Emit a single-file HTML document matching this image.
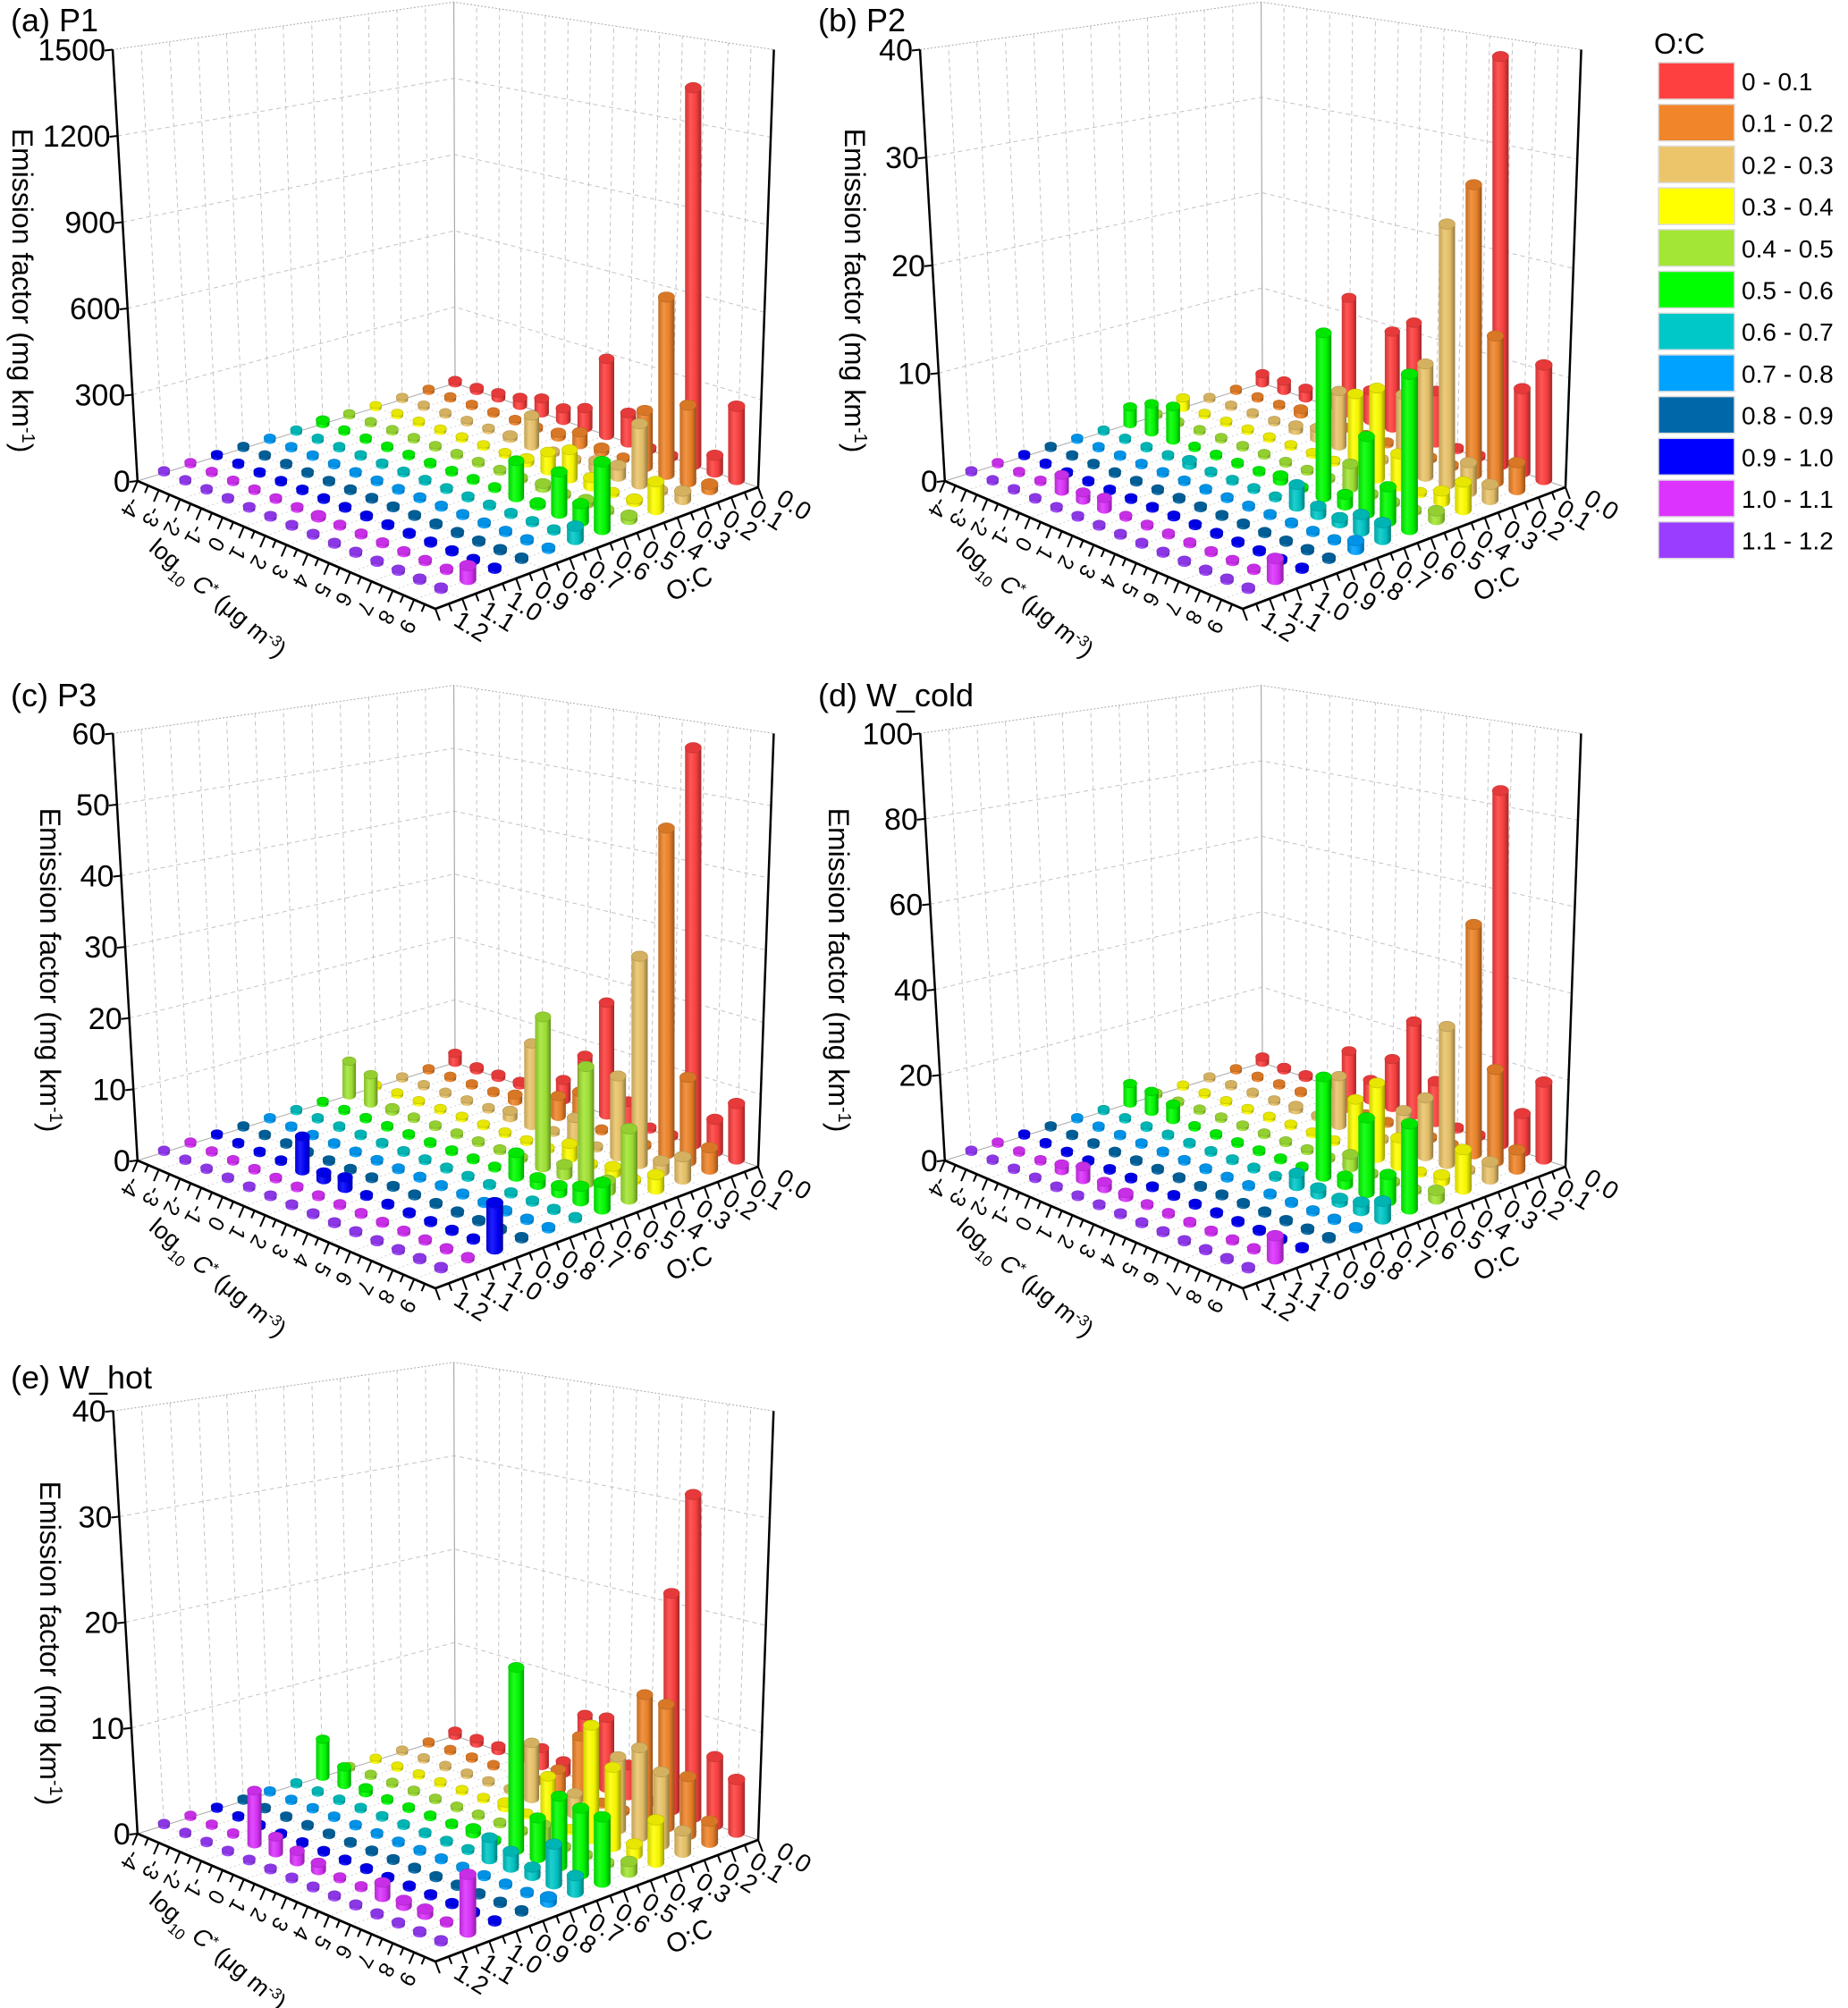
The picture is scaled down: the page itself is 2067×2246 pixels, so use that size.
<!DOCTYPE html>
<html><head><meta charset="utf-8"><title>Emission factor by volatility and O:C</title>
<style>
html,body{margin:0;padding:0;background:#fff;}
svg{display:block;font-family:"Liberation Sans",sans-serif;}
</style></head>
<body>
<svg id="fig" xmlns="http://www.w3.org/2000/svg" width="2067" height="2246" viewBox="0 0 2067 2246">
<defs id="defs"></defs>
<rect x="0" y="0" width="2067" height="2246" fill="#fff"/>
</svg>
<script>
// ---- Data: O:C bins (rows) x log10 C* (columns) ----
const ocBins = ['0 - 0.1','0.1 - 0.2','0.2 - 0.3','0.3 - 0.4','0.4 - 0.5','0.5 - 0.6','0.6 - 0.7','0.7 - 0.8','0.8 - 0.9','0.9 - 1.0','1.0 - 1.1','1.1 - 1.2'];
const ocColors = ['#ff4040','#f0852a','#ecc56b','#ffff00','#a3e635','#00ff00','#00c8c8','#00a2ff','#0068a8','#0000ff','#dd33ff','#9b3dff'];
const cStarTicks = ['-4','-3','-2','-1','0','1','2','3','4','5','6','7','8','9'];
const ocTicks = ['0.0','0.1','0.2','0.3','0.4','0.5','0.6','0.7','0.8','0.9','1.0','1.1','1.2'];
const zeros = [0,0,0,0,0,0,0,0,0,0,0,0,0,0];

const efP1 = [
 [8,12,20,30,55,45,73,280,108,0,0,1330,60,255],
 [0,0,0,0,0,0,15,44,15,0,200,620,267,20],
 [0,0,0,0,0,10,110,0,0,30,40,210,0,30],
 [0,0,0,0,0,0,0,15,65,100,30,0,10,95],
 [0,0,0,0,0,0,0,0,0,15,0,15,0,15],
 [15,0,0,0,0,0,0,0,0,125,5,140,60,225],
 [0,0,0,0,0,0,0,0,0,0,0,0,0,45],
 zeros, zeros, zeros,
 [0,0,0,0,0,0,8,0,0,0,0,0,0,45],
 zeros];
const efP2 = [
 [1,1,1,1,11.6,3,9.5,11,5,0,0,38.4,7.8,10.6],
 [0,0,0,0.5,0,0,0,0,0,0,0,27,13.5,2.5],
 [0,0,0,0,0.5,1,5.3,0,0,7,10.5,24,2.7,1.4],
 [1,0,0,0,0,0,0,0,7.2,8.4,3,0,1,2.5],
 [0,0,0,0,0,0,0,0,0,2.2,0,0,0,0.8],
 [1.7,2.8,3.3,0,0,0,0,0.5,0,15,1,6.9,3.1,13.7],
 [0,0,0,0,0.5,0,0,0,0,2,0.8,0.5,1.5,1.5],
 [0,0,0,0,0,0,0,0,0,0,0,0,0,0.8],
 zeros, zeros,
 [0,0,0,1.5,0.7,1.0,0,0,0,0,0,0,0,1.8],
 zeros];
const efP3 = [
 [1.5,0.5,0.5,0.5,0,3,7.7,16.6,3,0,0,56.5,4.6,7.8],
 [0,0,0,0,1,0,3,4.7,0,0,0,46,11.8,3],
 [0,0,0,0,0,1,12,0,3.3,0,11.3,29,1.5,3.1],
 [0,0,0,0,0,0,0,0,0,2,0,1,0,2],
 [5.2,4.3,0.5,0,0,0,0,0,0,21,1.5,16,1.5,9.5],
 [0,0,0,0,0,0,0,0,0,3.3,1,1,2,3.6],
 zeros, zeros, zeros,
 [0,0,0,0,4.8,1,1.5,0,0,0,0,0,0,6],
 zeros, zeros];
const efWcold = [
 [1.5,0.5,0.5,1.5,10.5,5,12,23,10,0,0,84,9,18],
 [0,0,0,0,0,2,0,0,0,0,0,54,21.5,4.5],
 [0,0,0,0,1,0,12,0,0,9,13.7,32,0,4],
 [0,0,0,0,0,0,0,0,12,17.6,6.5,0,1.5,9],
 [0,0,0,0,0,0,0,0,0,3,0,0,0,2],
 [5,5,3.8,0,0,0,0,0,0,23,2,17,6,19],
 [0,0,0,0,0,0,0,0,0,3,1.5,1,2,4],
 zeros, zeros, zeros,
 [0,0,0,1.5,3,1.5,1,0,0,0,0,0,0,5],
 zeros];
const efWhot = [
 [0.5,0.5,0.5,1,1.8,1.2,6.6,7,3,0,21,31,6.5,5],
 [0,0,0,0,0,0,2,6,0,0,12,11.7,5.5,2],
 [0,0,0,0,0,0,5.5,0,2,0,6.9,8.4,6.8,2],
 [0,0,0,0,0,0,0.5,0,4.5,0,10.7,7.4,1,3.9],
 [0,0,0,0,0,0,0,0,0,1.5,0,0,0,1],
 [3.8,1.8,0.5,0,0,0,0,0.5,0,17,3.7,6.4,6,5.9],
 [0,0,0,0,0,0,0,0,0,2,1.5,0.8,3.6,1.5],
 [0,0,0,0,0,0,0,0,0,0,0,0,0,0.5],
 zeros, zeros,
 [0,0,0,5,1.5,1,0.7,0,0,1.3,0.5,0.5,0,5],
 zeros];

const ticksP1 = [0,300,600,900,1200,1500];
const ticksP2 = [0,10,20,30,40];
const ticksP3 = [0,10,20,30,40,50,60];
const ticksWcold = [0,20,40,60,80,100];
const ticksWhot = [0,10,20,30,40];

// ---- Layout ----
const svg = document.getElementById('fig');
const defs = document.getElementById('defs');
const NS = 'http://www.w3.org/2000/svg';
function mk(tag, attrs, parent){ const e=document.createElementNS(NS,tag); for(const k in attrs) e.setAttribute(k,attrs[k]); (parent||svg).appendChild(e); return e; }

const GB=[509,428.6], GL=[153.8,538], GR=[848,545], GF=[487,681];
const GBt=[507.6,2.3], GLt=[126,55.5], GRt=[865.6,55.5];
const HB=426, HL=482.5, HR=489.5, HF=545;

function bil(b,r,l,f,u,v){ return (1-u)*(1-v)*b + u*(1-v)*r + (1-u)*v*l + u*v*f; }
function floorPt(u,v){ return [bil(GB[0],GR[0],GL[0],GF[0],u,v), bil(GB[1],GR[1],GL[1],GF[1],u,v)]; }
function heightAt(u,v){ return bil(HB,HR,HL,HF,u,v); }
function lerp(a,b,t){ return [a[0]+(b[0]-a[0])*t, a[1]+(b[1]-a[1])*t]; }
function uOf(i){ return i/14; }
function vOf(j){ return j/12; }

function hexToRgb(h){ return [parseInt(h.substr(1,2),16),parseInt(h.substr(3,2),16),parseInt(h.substr(5,2),16)]; }
function rgbS(c,k){ return 'rgb('+c.map(x=>Math.max(0,Math.min(255,Math.round(k>=1? x+(255-x)*(k-1): x*k)))).join(',')+')'; }
ocColors.forEach((col,j)=>{
  const c=hexToRgb(col);
  const g=mk('linearGradient',{id:'cg'+j,x1:'0',y1:'0',x2:'1',y2:'0'},defs);
  mk('stop',{offset:'0','stop-color':rgbS(c,0.82)},g);
  mk('stop',{offset:'0.35','stop-color':rgbS(c,1.12)},g);
  mk('stop',{offset:'0.7','stop-color':rgbS(c,0.95)},g);
  mk('stop',{offset:'1','stop-color':rgbS(c,0.62)},g);
});

const panels = [
 {key:'p1', title:'(a) P1', ox:0, oy:0, sc:1, data:efP1, ticks:ticksP1, ytx:25, tty:35},
 {key:'p2', title:'(b) P2', ox:903, oy:0, sc:1, data:efP2, ticks:ticksP2, ytx:53, tty:35},
 {key:'p3', title:'(c) P3', ox:0, oy:760, sc:0.99, data:efP3, ticks:ticksP3, ytx:56, tty:30},
 {key:'w-cold', title:'(d) W_cold', ox:903, oy:760, sc:0.99, data:efWcold, ticks:ticksWcold, ytx:35, tty:30},
 {key:'w-hot', title:'(e) W_hot', ox:0, oy:1513, sc:0.98, data:efWhot, ticks:ticksWhot, ytx:56, tty:40}
];

panels.forEach(p=>{
  const g = mk('g',{transform:'translate('+p.ox+','+p.oy+')'});
  
  
  const maxV = p.ticks[p.ticks.length-1];
  const wallPt=(side,t,f)=>{
    const b = side==='L'? lerp(GB,GL,t) : lerp(GB,GR,t);
    const tp = side==='L'? lerp(GBt,GLt,t) : lerp(GBt,GRt,t);
    const s = p.sc;
    return [b[0]+(tp[0]-b[0])*f*s, b[1]+(tp[1]-b[1])*f*s];
  };
  const wall = mk('g',{stroke:'#c4c4c4','stroke-width':'1','stroke-dasharray':'5 4',fill:'none'},g);
  
  
  for(let k=1;k<=12;k++){ const a=wallPt('L',k/12,0), b=wallPt('L',k/12,1); mk('line',{x1:a[0],y1:a[1],x2:b[0],y2:b[1]},wall); }
  for(let k=1;k<=14;k++){ const a=wallPt('R',k/14,0), b=wallPt('R',k/14,1); mk('line',{x1:a[0],y1:a[1],x2:b[0],y2:b[1]},wall); }
  p.ticks.forEach((t,ti)=>{ if(ti===0) return; const f=t/maxV;
    const a=wallPt('L',1,f), b=wallPt('L',0,f), c=wallPt('R',1,f);
    const pl=mk('polyline',{points:a.join(',')+' '+b.join(',')+' '+c.join(','), stroke: ti===p.ticks.length-1?'#aaa':'#c4c4c4'},wall);
    if(ti===p.ticks.length-1) pl.setAttribute('stroke-dasharray','2 2');
  });
  const bt=wallPt('L',0,1);
  mk('line',{x1:GB[0],y1:GB[1],x2:bt[0],y2:bt[1],stroke:'#aaa','stroke-width':'1.2'},g);
  const fl = mk('g',{stroke:'#cfcfcf','stroke-width':'0.9','stroke-dasharray':'2 3',fill:'none'},g);
  
  
  for(let j=0;j<12;j++){ const a=floorPt(0,vOf(j)), b=floorPt(1,vOf(j)); mk('line',{x1:a[0],y1:a[1],x2:b[0],y2:b[1]},fl); }
  for(let i=0;i<14;i++){ const a=floorPt(uOf(i),0), b=floorPt(uOf(i),1); mk('line',{x1:a[0],y1:a[1],x2:b[0],y2:b[1]},fl); }
  mk('line',{x1:GB[0],y1:GB[1],x2:GL[0],y2:GL[1],stroke:'#aaa','stroke-width':'1'},g);
  mk('line',{x1:GB[0],y1:GB[1],x2:GR[0],y2:GR[1],stroke:'#aaa','stroke-width':'1'},g);

  const lt=wallPt('L',1,1), rt=wallPt('R',1,1);
  const yAxis=mk('line',{x1:GL[0],y1:GL[1],x2:lt[0],y2:lt[1],stroke:'#000','stroke-width':'2.5'},g);
  
  
  const rAxis=mk('line',{x1:GR[0],y1:GR[1],x2:rt[0],y2:rt[1],stroke:'#000','stroke-width':'2.5'},g);
  
  
  const xAxis=mk('line',{x1:GL[0],y1:GL[1],x2:GF[0],y2:GF[1],stroke:'#000','stroke-width':'2.8'},g);
  
  
  const oAxis=mk('line',{x1:GR[0],y1:GR[1],x2:GF[0],y2:GF[1],stroke:'#000','stroke-width':'2.8'},g);
  
  

  p.ticks.forEach(t=>{
    const f=t/maxV; const pt=[GL[0]+(lt[0]-GL[0])*f, GL[1]+(lt[1]-GL[1])*f];
    mk('line',{x1:pt[0]-9,y1:pt[1]+1,x2:pt[0],y2:pt[1],stroke:'#000','stroke-width':'2'},g);
    const tx=mk('text',{x:pt[0]-8,y:pt[1]+12,'text-anchor':'end','font-size':'34',fill:'#000'},g);
    tx.textContent=String(t);
    
    
  });
  const nLF=[-0.395,0.92], nRF=[0.35,0.935];
  for(let k=0;k<28;k++){ const u=k/28; const pt=lerp(GL,GF,u); const len=k%2===0?14:9;
    mk('line',{x1:pt[0],y1:pt[1],x2:pt[0]+nLF[0]*len,y2:pt[1]+nLF[1]*len,stroke:'#000','stroke-width':'2'},g); }
  cStarTicks.forEach((lab,i)=>{ const pt=lerp(GL,GF,uOf(i)+0.02); const cx=pt[0]-14, cy=pt[1]+27;
    const tx=mk('text',{x:cx,y:cy+8,'text-anchor':'middle','font-size':'24',transform:'rotate(120 '+cx+' '+cy+')'},g);
    tx.textContent=lab;
    
    
  });
  for(let k=0;k<=24;k++){ const v=k/24; const pt=lerp(GR,GF,v); const len=k%2===0?14:9;
    mk('line',{x1:pt[0],y1:pt[1],x2:pt[0]+nRF[0]*len,y2:pt[1]+nRF[1]*len,stroke:'#000','stroke-width':'2'},g); }
  ocTicks.forEach((lab,k)=>{ const pt=lerp(GR,GF,k/12); const cx=pt[0]+40, cy=pt[1]+20;
    const tx=mk('text',{x:cx,y:cy+9,'text-anchor':'middle','font-size':'28',transform:'rotate(32 '+cx+' '+cy+')'},g);
    tx.textContent=lab;
    
    
  });

  const bars=[];
  p.data.forEach((row,j)=>row.forEach((val,i)=>{ const u=uOf(i), v=vOf(j); const fp=floorPt(u,v); bars.push({i,j,val,u,v,fp}); }));
  bars.sort((a,b)=>a.fp[1]-b.fp[1]);
  const barG=mk('g',{},g);
  
  
  bars.forEach(b=>{
    const w = b.val>0 ? 15 + 4*b.u : 13 + 2*b.u;
    const ry = w*0.32;
    let h = b.val/maxV*heightAt(b.u,b.v)*p.sc;
    if(h<3) h=3;
    const x=b.fp[0], y0=b.fp[1], y1=y0-h;
    const cg=mk('g',{},barG);
    
    
    mk('ellipse',{cx:x,cy:y0,rx:w/2,ry:ry,fill:'url(#cg'+b.j+')'},cg);
    mk('rect',{x:x-w/2,y:y1,width:w,height:h,fill:'url(#cg'+b.j+')'},cg);
    const c=hexToRgb(ocColors[b.j]);
    mk('ellipse',{cx:x,cy:y1,rx:w/2,ry:ry,fill:rgbS(c,0.9),stroke:rgbS(c,0.75),'stroke-width':'0.6'},cg);
  });

  const tt=mk('text',{x:12,y:p.tty,'font-size':'36',fill:'#000'},g);
  tt.textContent=p.title;
  
  
  const yt=mk('text',{x:0,y:0,'font-size':'32','text-anchor':'middle',transform:'translate('+(p.ytx-11)+',325) rotate(90)'},g);
  
  
  yt.innerHTML='Emission factor (mg km<tspan baseline-shift="super" font-size="20">-1</tspan>)';
  const lx=mk('text',{x:0,y:0,'font-size':'27','text-anchor':'middle',transform:'translate(238,676) rotate(40)'},g);
  
  
  lx.innerHTML='log<tspan baseline-shift="sub" font-size="17">10</tspan> <tspan font-style="italic">C</tspan><tspan baseline-shift="super" font-size="17">*</tspan> (μg m<tspan baseline-shift="super" font-size="17">-3</tspan>)';
  const ot=mk('text',{x:0,y:0,'font-size':'30','text-anchor':'middle',transform:'translate(775,662) rotate(-25)'},g);
  
  
  ot.textContent='O:C';
});

const lg=mk('g',{});


const lt=mk('text',{x:1850,y:60,'font-size':'32'},lg);
lt.textContent='O:C';


ocBins.forEach((lab,k)=>{
  const y=70+k*46.7;
  const r=mk('rect',{x:1855,y:y,width:85,height:41,fill:ocColors[k],stroke:'#dcdcdc','stroke-width':'1.5'},lg);
  
  
  const t=mk('text',{x:1948,y:y+31,'font-size':'28'},lg);
  t.textContent=lab;
  
  
});
</script>
</body></html>
